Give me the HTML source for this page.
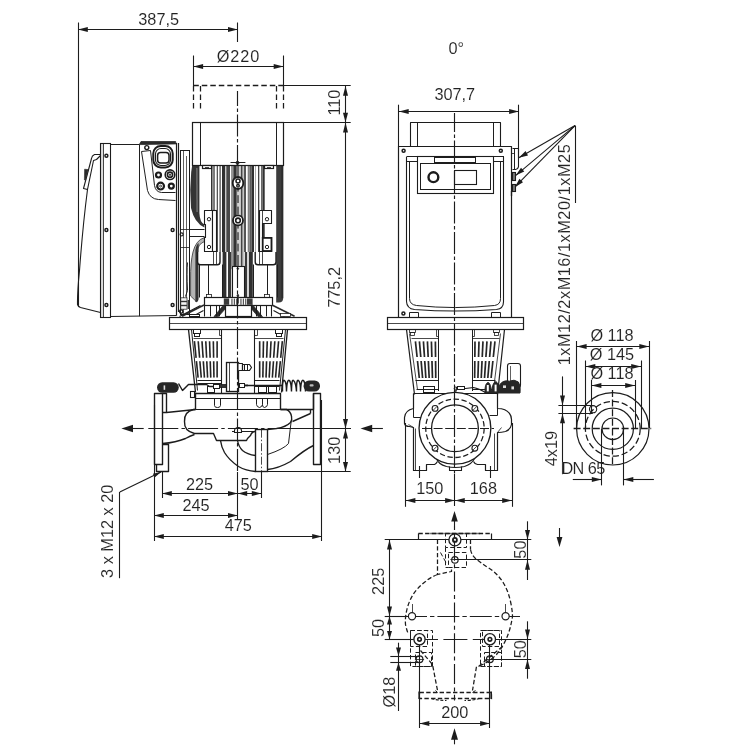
<!DOCTYPE html>
<html lang="en"><head><meta charset="utf-8"><title>Pump dimension drawing</title>
<style>
html,body{margin:0;padding:0;background:#fff;}
body{width:750px;height:750px;overflow:hidden;}
svg{display:block;will-change:transform;}
svg text{font-family:"Liberation Sans",sans-serif;fill:#222;stroke:#fff;stroke-width:0.1px;}
</style></head><body>
<svg width="750" height="750" viewBox="0 0 750 750">
<rect x="0" y="0" width="750" height="750" fill="#ffffff"/>
<text x="456.3" y="53.7" text-anchor="middle" font-size="16.3">0°</text>
<line x1="78.5" y1="22.5" x2="78.5" y2="306" stroke="#1c1c1c" stroke-width="1.1"/>
<line x1="237.5" y1="22.5" x2="237.5" y2="42" stroke="#1c1c1c" stroke-width="1.1"/>
<line x1="78" y1="29.5" x2="237.8" y2="29.5" stroke="#1c1c1c" stroke-width="1.1"/>
<polygon points="78.00,29.50 87.80,27.00 87.80,32.00" fill="#1c1c1c"/>
<polygon points="237.80,29.50 228.00,27.00 228.00,32.00" fill="#1c1c1c"/>
<text x="158.7" y="24.8" text-anchor="middle" font-size="16.3">387,5</text>
<line x1="193.5" y1="55.5" x2="193.5" y2="86" stroke="#1c1c1c" stroke-width="1.1"/>
<line x1="283.5" y1="55.5" x2="283.5" y2="86" stroke="#1c1c1c" stroke-width="1.1"/>
<line x1="193.3" y1="66.5" x2="283.5" y2="66.5" stroke="#1c1c1c" stroke-width="1.1"/>
<polygon points="193.30,66.50 203.10,64.00 203.10,69.00" fill="#1c1c1c"/>
<polygon points="283.50,66.50 273.70,64.00 273.70,69.00" fill="#1c1c1c"/>
<text x="238" y="61.8" text-anchor="middle" font-size="16.3" textLength="42.6" lengthAdjust="spacing">Ø220</text>
<line x1="193.3" y1="85.5" x2="283.5" y2="85.5" stroke="#1c1c1c" stroke-width="1.26" stroke-dasharray="5.5 3"/>
<line x1="193.5" y1="85.9" x2="193.5" y2="110" stroke="#1c1c1c" stroke-width="1.26" stroke-dasharray="5.5 3"/>
<line x1="200.5" y1="85.9" x2="200.5" y2="110" stroke="#1c1c1c" stroke-width="1.26" stroke-dasharray="5.5 3"/>
<line x1="276.5" y1="85.9" x2="276.5" y2="110" stroke="#1c1c1c" stroke-width="1.26" stroke-dasharray="5.5 3"/>
<line x1="283.5" y1="85.9" x2="283.5" y2="110" stroke="#1c1c1c" stroke-width="1.26" stroke-dasharray="5.5 3"/>
<line x1="283.5" y1="85.5" x2="350.7" y2="85.5" stroke="#1c1c1c" stroke-width="1.1"/>
<line x1="283.5" y1="122.5" x2="350.7" y2="122.5" stroke="#1c1c1c" stroke-width="1.1"/>
<line x1="345.5" y1="85.9" x2="345.5" y2="122.6" stroke="#1c1c1c" stroke-width="1.1"/>
<polygon points="345.50,85.90 343.00,95.70 348.00,95.70" fill="#1c1c1c"/>
<polygon points="345.50,122.60 343.00,112.80 348.00,112.80" fill="#1c1c1c"/>
<text transform="translate(339.6 102.6) rotate(-90)" text-anchor="middle" font-size="16.3">110</text>
<line x1="345.5" y1="122.6" x2="345.5" y2="428.8" stroke="#1c1c1c" stroke-width="1.1"/>
<polygon points="345.50,122.60 343.00,132.40 348.00,132.40" fill="#1c1c1c"/>
<polygon points="345.50,428.80 343.00,419.00 348.00,419.00" fill="#1c1c1c"/>
<text transform="translate(339.8 287.4) rotate(-90)" text-anchor="middle" font-size="16.3">775,2</text>
<line x1="262" y1="471.5" x2="350.7" y2="471.5" stroke="#1c1c1c" stroke-width="1.1"/>
<line x1="345.5" y1="428.8" x2="345.5" y2="471.7" stroke="#1c1c1c" stroke-width="1.1"/>
<polygon points="345.50,428.80 343.00,438.60 348.00,438.60" fill="#1c1c1c"/>
<polygon points="345.50,471.70 343.00,461.90 348.00,461.90" fill="#1c1c1c"/>
<text transform="translate(339.8 450.3) rotate(-90)" text-anchor="middle" font-size="16.3">130</text>
<polygon points="121.40,428.50 133.00,424.80 133.00,432.20" fill="#1c1c1c"/>
<line x1="133" y1="428.5" x2="143.7" y2="428.5" stroke="#1c1c1c" stroke-width="1.1"/>
<polygon points="360.50,428.50 372.20,424.80 372.20,432.20" fill="#1c1c1c"/>
<line x1="372" y1="428.5" x2="382.9" y2="428.5" stroke="#1c1c1c" stroke-width="1.1"/>
<line x1="162.5" y1="472" x2="162.5" y2="498" stroke="#1c1c1c" stroke-width="1.1"/>
<line x1="261.5" y1="471" x2="261.5" y2="498" stroke="#1c1c1c" stroke-width="1.1"/>
<line x1="162" y1="493.5" x2="261.2" y2="493.5" stroke="#1c1c1c" stroke-width="1.1"/>
<polygon points="162.00,493.50 171.80,491.00 171.80,496.00" fill="#1c1c1c"/>
<polygon points="237.80,493.50 228.00,491.00 228.00,496.00" fill="#1c1c1c"/>
<polygon points="237.80,493.50 247.20,491.00 247.20,496.00" fill="#1c1c1c"/>
<polygon points="261.20,493.50 251.80,491.00 251.80,496.00" fill="#1c1c1c"/>
<text x="199.5" y="490.0" text-anchor="middle" font-size="16.3">225</text>
<text x="249.6" y="490.0" text-anchor="middle" font-size="16.3">50</text>
<line x1="154.5" y1="405" x2="154.5" y2="541" stroke="#1c1c1c" stroke-width="1.1"/>
<line x1="154" y1="515.5" x2="237.8" y2="515.5" stroke="#1c1c1c" stroke-width="1.1"/>
<polygon points="154.00,515.50 163.80,513.00 163.80,518.00" fill="#1c1c1c"/>
<polygon points="237.80,515.50 228.00,513.00 228.00,518.00" fill="#1c1c1c"/>
<text x="196" y="510.9" text-anchor="middle" font-size="16.3">245</text>
<line x1="321.5" y1="400" x2="321.5" y2="541" stroke="#1c1c1c" stroke-width="1.1"/>
<line x1="154" y1="536.5" x2="322" y2="536.5" stroke="#1c1c1c" stroke-width="1.1"/>
<polygon points="154.00,536.50 163.80,534.00 163.80,539.00" fill="#1c1c1c"/>
<polygon points="322.00,536.50 312.20,534.00 312.20,539.00" fill="#1c1c1c"/>
<text x="238.3" y="531.4" text-anchor="middle" font-size="16.3">475</text>
<line x1="119.5" y1="492" x2="119.5" y2="578.2" stroke="#1c1c1c" stroke-width="1.1"/>
<line x1="119.8" y1="492" x2="161" y2="472.1" stroke="#1c1c1c" stroke-width="1.1"/>
<polygon points="161.00,472.10 154.67,477.38 152.93,473.78" fill="#1c1c1c"/>
<text transform="translate(113 531.3) rotate(-90)" text-anchor="middle" font-size="16.3">3 x M12 x 20</text>
<line x1="398.5" y1="104.7" x2="398.5" y2="147" stroke="#1c1c1c" stroke-width="1.1"/>
<line x1="518.5" y1="104.7" x2="518.5" y2="158" stroke="#1c1c1c" stroke-width="1.1"/>
<line x1="398.9" y1="111.5" x2="518.9" y2="111.5" stroke="#1c1c1c" stroke-width="1.1"/>
<polygon points="398.90,111.50 408.70,109.00 408.70,114.00" fill="#1c1c1c"/>
<polygon points="518.90,111.50 509.10,109.00 509.10,114.00" fill="#1c1c1c"/>
<text x="454.8" y="99.6" text-anchor="middle" font-size="16.3">307,7</text>
<line x1="575.5" y1="125.6" x2="575.5" y2="203" stroke="#1c1c1c" stroke-width="1.1"/>
<line x1="575" y1="125.6" x2="518.8" y2="157.8" stroke="#1c1c1c" stroke-width="1.1"/>
<polygon points="518.80,157.80 525.54,151.06 528.03,155.40" fill="#1c1c1c"/>
<line x1="575" y1="125.6" x2="515.6" y2="175.6" stroke="#1c1c1c" stroke-width="1.1"/>
<polygon points="515.60,175.60 521.03,167.76 524.25,171.59" fill="#1c1c1c"/>
<line x1="575" y1="125.6" x2="514.8" y2="187.2" stroke="#1c1c1c" stroke-width="1.1"/>
<polygon points="514.80,187.20 519.44,178.87 523.02,182.37" fill="#1c1c1c"/>
<text transform="translate(569.6 254.8) rotate(-90)" text-anchor="middle" font-size="16.3" textLength="221" lengthAdjust="spacing">1xM12/2xM16/1xM20/1xM25</text>
<line x1="405.5" y1="423" x2="405.5" y2="506.8" stroke="#1c1c1c" stroke-width="1.1"/>
<line x1="512.5" y1="423" x2="512.5" y2="506.8" stroke="#1c1c1c" stroke-width="1.1"/>
<line x1="405.6" y1="500.5" x2="512" y2="500.5" stroke="#1c1c1c" stroke-width="1.1"/>
<polygon points="405.60,500.50 415.40,498.00 415.40,503.00" fill="#1c1c1c"/>
<polygon points="454.95,500.50 445.15,498.00 445.15,503.00" fill="#1c1c1c"/>
<polygon points="454.95,500.50 464.75,498.00 464.75,503.00" fill="#1c1c1c"/>
<polygon points="512.00,500.50 502.20,498.00 502.20,503.00" fill="#1c1c1c"/>
<text x="429.8" y="494.3" text-anchor="middle" font-size="16.3">150</text>
<text x="483.4" y="494.3" text-anchor="middle" font-size="16.3">168</text>
<line x1="419.5" y1="466" x2="419.5" y2="478" stroke="#1c1c1c" stroke-width="1.1"/>
<line x1="490.5" y1="466" x2="490.5" y2="478" stroke="#1c1c1c" stroke-width="1.1"/>
<line x1="576.5" y1="341" x2="576.5" y2="428" stroke="#1c1c1c" stroke-width="1.1"/>
<line x1="649.5" y1="341" x2="649.5" y2="428" stroke="#1c1c1c" stroke-width="1.1"/>
<line x1="576.8" y1="346.5" x2="649.1" y2="346.5" stroke="#1c1c1c" stroke-width="1.1"/>
<polygon points="576.80,346.50 586.60,344.00 586.60,349.00" fill="#1c1c1c"/>
<polygon points="649.10,346.50 639.30,344.00 639.30,349.00" fill="#1c1c1c"/>
<text x="612" y="341.1" text-anchor="middle" font-size="16.3">Ø 118</text>
<line x1="585.5" y1="360.5" x2="585.5" y2="428" stroke="#1c1c1c" stroke-width="1.1"/>
<line x1="641.5" y1="360.5" x2="641.5" y2="428" stroke="#1c1c1c" stroke-width="1.1"/>
<line x1="585.5" y1="366.5" x2="641" y2="366.5" stroke="#1c1c1c" stroke-width="1.1"/>
<polygon points="585.50,366.50 595.30,364.00 595.30,369.00" fill="#1c1c1c"/>
<polygon points="641.00,366.50 631.20,364.00 631.20,369.00" fill="#1c1c1c"/>
<text x="612" y="360.4" text-anchor="middle" font-size="16.3">Ø 145</text>
<line x1="591.5" y1="380" x2="591.5" y2="411" stroke="#1c1c1c" stroke-width="1.1"/>
<line x1="635.5" y1="380" x2="635.5" y2="428" stroke="#1c1c1c" stroke-width="1.1"/>
<line x1="591.6" y1="385.5" x2="635" y2="385.5" stroke="#1c1c1c" stroke-width="1.1"/>
<polygon points="591.60,385.50 601.40,383.00 601.40,388.00" fill="#1c1c1c"/>
<polygon points="635.00,385.50 625.20,383.00 625.20,388.00" fill="#1c1c1c"/>
<text x="612" y="379.2" text-anchor="middle" font-size="16.3">Ø 118</text>
<line x1="558.4" y1="405.5" x2="592.8" y2="405.5" stroke="#1c1c1c" stroke-width="1.1"/>
<line x1="558.4" y1="413.5" x2="592.8" y2="413.5" stroke="#1c1c1c" stroke-width="1.1"/>
<line x1="562.5" y1="376.4" x2="562.5" y2="474.2" stroke="#1c1c1c" stroke-width="1.1"/>
<polygon points="562.50,405.40 560.00,395.60 565.00,395.60" fill="#1c1c1c"/>
<polygon points="562.50,413.40 560.00,423.20 565.00,423.20" fill="#1c1c1c"/>
<text transform="translate(557.3 448.6) rotate(-90)" text-anchor="middle" font-size="16.3">4x19</text>
<text x="561.4" y="474.2" text-anchor="start" font-size="16.3" textLength="43.9" lengthAdjust="spacing">DN 65</text>
<line x1="572.8" y1="479.5" x2="601.6" y2="479.5" stroke="#1c1c1c" stroke-width="1.1"/>
<line x1="623.5" y1="479.5" x2="653.9" y2="479.5" stroke="#1c1c1c" stroke-width="1.1"/>
<polygon points="601.60,479.50 591.80,477.00 591.80,482.00" fill="#1c1c1c"/>
<polygon points="623.50,479.50 633.30,477.00 633.30,482.00" fill="#1c1c1c"/>
<line x1="601.5" y1="428.8" x2="601.5" y2="485.4" stroke="#1c1c1c" stroke-width="1.1"/>
<line x1="623.5" y1="428.8" x2="623.5" y2="485.4" stroke="#1c1c1c" stroke-width="1.1"/>
<polygon points="454.50,511.00 451.20,521.40 457.80,521.40" fill="#1c1c1c"/>
<line x1="454.5" y1="521" x2="454.5" y2="526" stroke="#1c1c1c" stroke-width="1.1"/>
<polygon points="454.50,728.30 451.00,739.70 458.00,739.70" fill="#1c1c1c"/>
<line x1="454.5" y1="739" x2="454.5" y2="744.3" stroke="#1c1c1c" stroke-width="1.1"/>
<polygon points="559.50,547.00 556.60,537.00 562.40,537.00" fill="#1c1c1c"/>
<line x1="559.5" y1="528" x2="559.5" y2="538" stroke="#1c1c1c" stroke-width="1.1"/>
<line x1="384.7" y1="539.5" x2="531.3" y2="539.5" stroke="#1c1c1c" stroke-width="1.1"/>
<line x1="454.9" y1="559.5" x2="531.3" y2="559.5" stroke="#1c1c1c" stroke-width="1.1"/>
<line x1="527.5" y1="521.3" x2="527.5" y2="580" stroke="#1c1c1c" stroke-width="1.1"/>
<polygon points="527.50,539.70 525.00,529.90 530.00,529.90" fill="#1c1c1c"/>
<polygon points="527.50,559.90 525.00,569.70 530.00,569.70" fill="#1c1c1c"/>
<text transform="translate(525.5 549.6) rotate(-90)" text-anchor="middle" font-size="16.3">50</text>
<line x1="389.5" y1="539.7" x2="389.5" y2="616.2" stroke="#1c1c1c" stroke-width="1.1"/>
<polygon points="389.50,539.70 387.00,549.50 392.00,549.50" fill="#1c1c1c"/>
<polygon points="389.50,616.20 387.00,606.40 392.00,606.40" fill="#1c1c1c"/>
<text transform="translate(384.1 581.3) rotate(-90)" text-anchor="middle" font-size="16.3">225</text>
<line x1="389.5" y1="616.2" x2="389.5" y2="639.3" stroke="#1c1c1c" stroke-width="1.1"/>
<polygon points="389.50,616.20 387.00,624.60 392.00,624.60" fill="#1c1c1c"/>
<polygon points="389.50,639.30 387.00,630.90 392.00,630.90" fill="#1c1c1c"/>
<text transform="translate(384.1 628) rotate(-90)" text-anchor="middle" font-size="16.3">50</text>
<line x1="384.7" y1="639.5" x2="414" y2="639.5" stroke="#1c1c1c" stroke-width="1.1"/>
<line x1="414" y1="639.5" x2="496" y2="639.5" stroke="#1c1c1c" stroke-width="0.99" stroke-dasharray="24 5.4"/>
<line x1="496" y1="639.5" x2="531.3" y2="639.5" stroke="#1c1c1c" stroke-width="1.1"/>
<line x1="384.7" y1="616.5" x2="405" y2="616.5" stroke="#1c1c1c" stroke-width="1.1"/>
<line x1="405" y1="616.5" x2="520" y2="616.5" stroke="#1c1c1c" stroke-width="0.99" stroke-dasharray="22 3 4.4 3"/>
<line x1="489.9" y1="659.5" x2="531.3" y2="659.5" stroke="#1c1c1c" stroke-width="1.1"/>
<line x1="527.5" y1="621.3" x2="527.5" y2="678.7" stroke="#1c1c1c" stroke-width="1.1"/>
<polygon points="527.50,639.30 525.00,629.50 530.00,629.50" fill="#1c1c1c"/>
<polygon points="527.50,659.30 525.00,669.10 530.00,669.10" fill="#1c1c1c"/>
<text transform="translate(525.5 649.3) rotate(-90)" text-anchor="middle" font-size="16.3">50</text>
<line x1="390.3" y1="656.5" x2="419.5" y2="656.5" stroke="#1c1c1c" stroke-width="1.1"/>
<line x1="390.3" y1="662.5" x2="419.5" y2="662.5" stroke="#1c1c1c" stroke-width="1.1"/>
<line x1="398.5" y1="642.7" x2="398.5" y2="711" stroke="#1c1c1c" stroke-width="1.1"/>
<polygon points="398.50,656.00 396.00,647.60 401.00,647.60" fill="#1c1c1c"/>
<polygon points="398.50,662.40 396.00,670.80 401.00,670.80" fill="#1c1c1c"/>
<text transform="translate(395.4 692) rotate(-90)" text-anchor="middle" font-size="16.3">Ø18</text>
<line x1="419.5" y1="639.3" x2="419.5" y2="728" stroke="#1c1c1c" stroke-width="1.1"/>
<line x1="489.5" y1="639.3" x2="489.5" y2="728" stroke="#1c1c1c" stroke-width="1.1"/>
<line x1="419.5" y1="723.5" x2="489.9" y2="723.5" stroke="#1c1c1c" stroke-width="1.1"/>
<polygon points="419.50,723.50 429.30,721.00 429.30,726.00" fill="#1c1c1c"/>
<polygon points="489.90,723.50 480.10,721.00 480.10,726.00" fill="#1c1c1c"/>
<text x="454.8" y="717.8" text-anchor="middle" font-size="16.3">200</text>
<path d="M100.5,154.5 L94.5,154.5 Q91.8,155.6 91.5,158.5 L83.5,188.5 L87.5,189.5 L93.5,160.5 L96.5,159.5 L100.5,155.5" fill="none" stroke="#1c1c1c" stroke-width="1.1" stroke-linejoin="round"/>
<path d="M87.5,189.5 C85.5,205 81,250 79.5,270.5 C78,285 77.4,298 77.5,304.5 Q78,306.6 80.5,307.5 L100.5,312.5" fill="none" stroke="#1c1c1c" stroke-width="1.1" stroke-linejoin="round"/>
<path d="M84.6,169.2 L88.2,169.6 L85.6,180 L84.4,180 Z" fill="#2a2a2a" stroke="#2a2a2a" stroke-width="0.6"/>
<rect x="100.6" y="143.6" width="3" height="173.6" fill="#ddd"/>
<rect x="100.5" y="143.5" width="10.00" height="174.00" fill="none" stroke="#1c1c1c" stroke-width="1.1"/>
<line x1="103.5" y1="143.6" x2="103.5" y2="317.2" stroke="#1c1c1c" stroke-width="0.8"/>
<path d="M110.5,144.5 L139.5,144.5 M110.5,316.5 L176.5,315.5" fill="none" stroke="#1c1c1c" stroke-width="0.99" stroke-linejoin="round"/>
<line x1="139.5" y1="144.6" x2="139.5" y2="316.2" stroke="#1c1c1c" stroke-width="0.99"/>
<line x1="176.5" y1="143" x2="176.5" y2="315.6" stroke="#1c1c1c" stroke-width="1.21"/>
<line x1="178.5" y1="143" x2="178.5" y2="312" stroke="#1c1c1c" stroke-width="1.21"/>
<circle cx="106.4" cy="155.8" r="1.5" fill="none" stroke="#1c1c1c" stroke-width="1.43"/>
<circle cx="106.4" cy="230" r="1.5" fill="none" stroke="#1c1c1c" stroke-width="1.43"/>
<circle cx="106.4" cy="305" r="1.5" fill="none" stroke="#1c1c1c" stroke-width="1.43"/>
<circle cx="172.6" cy="230" r="1.5" fill="none" stroke="#1c1c1c" stroke-width="1.43"/>
<circle cx="172.6" cy="305" r="1.5" fill="none" stroke="#1c1c1c" stroke-width="1.43"/>
<path d="M139.3,144.6 L141,141.5 L175.6,141.5 L176.2,143.9 Z" fill="#2a2a2a" stroke="#2a2a2a" stroke-width="0.8"/>
<circle cx="146.8" cy="147.6" r="2.0" fill="none" stroke="#1c1c1c" stroke-width="1.43"/>
<path d="M141.5,151.5 L150.5,150.5" fill="none" stroke="#1c1c1c" stroke-width="0.99" stroke-linejoin="round"/>
<path d="M141.5,151.5 L147.5,190.5 Q150,199 158.5,199.5 L175.5,200.5" fill="none" stroke="#1c1c1c" stroke-width="0.99" stroke-linejoin="round"/>
<path d="M150.5,150.5 L154.5,185.5 Q155.6,192 161.5,192.5 L175.5,192.5" fill="none" stroke="#1c1c1c" stroke-width="0.99" stroke-linejoin="round"/>
<rect x="153.3" y="145.9" width="19.40" height="21.60" fill="none" stroke="#1c1c1c" stroke-width="2.0" rx="7.5"/>
<rect x="155.5" y="148.5" width="15.00" height="17.00" fill="none" stroke="#1c1c1c" stroke-width="1.1" rx="5.5"/>
<rect x="157.6" y="152.4" width="11.40" height="10.60" fill="none" stroke="#1c1c1c" stroke-width="1.5" rx="3"/>
<circle cx="158.5" cy="175" r="2.5" fill="none" stroke="#1c1c1c" stroke-width="2.2"/>
<circle cx="170" cy="174.7" r="4.8" fill="none" stroke="#1c1c1c" stroke-width="1.6"/>
<circle cx="170" cy="174.7" r="2.6" fill="none" stroke="#1c1c1c" stroke-width="1.6"/>
<circle cx="170" cy="174.7" r="0.8" fill="#1c1c1c" stroke="#1c1c1c" stroke-width="0.6"/>
<circle cx="160.6" cy="186.1" r="3.4" fill="none" stroke="#1c1c1c" stroke-width="2.2"/>
<circle cx="160.6" cy="186.1" r="1.0" fill="none" stroke="#1c1c1c" stroke-width="0.8"/>
<circle cx="171.3" cy="186.1" r="2.5" fill="none" stroke="#1c1c1c" stroke-width="2.2"/>
<rect x="180.5" y="150.5" width="9.00" height="164.00" fill="none" stroke="#1c1c1c" stroke-width="0.99"/>
<line x1="183.5" y1="150.4" x2="183.5" y2="314" stroke="#1c1c1c" stroke-width="0.7"/>
<line x1="186.5" y1="156" x2="186.5" y2="300" stroke="#1c1c1c" stroke-width="0.7"/>
<line x1="180.6" y1="229.5" x2="190" y2="229.5" stroke="#1c1c1c" stroke-width="0.8"/>
<line x1="180.6" y1="247.5" x2="190" y2="247.5" stroke="#1c1c1c" stroke-width="0.8"/>
<circle cx="181.6" cy="234.4" r="1.5" fill="none" stroke="#1c1c1c" stroke-width="1.1"/>
<rect x="211.00" y="165.2" width="1.30" height="86.80" fill="#333"/>
<rect x="212.30" y="165.2" width="2.70" height="86.80" fill="#7c7c7c"/>
<rect x="216.70" y="165.2" width="1.30" height="86.80" fill="#555"/>
<rect x="219.30" y="165.2" width="1.70" height="86.80" fill="#7a7a7a"/>
<rect x="222.00" y="165.2" width="3.30" height="86.80" fill="#303030"/>
<rect x="225.30" y="165.2" width="1.00" height="86.80" fill="#ccc"/>
<rect x="226.30" y="165.2" width="3.70" height="86.80" fill="#484848"/>
<rect x="231.30" y="165.2" width="1.40" height="86.80" fill="#686868"/>
<rect x="233.30" y="165.2" width="3.40" height="86.80" fill="#333"/>
<rect x="236.70" y="165.2" width="2.60" height="86.80" fill="#6a6a6a"/>
<rect x="240.70" y="165.2" width="2.00" height="86.80" fill="#444"/>
<rect x="242.70" y="165.2" width="1.30" height="86.80" fill="#c4c4c4"/>
<rect x="244.00" y="165.2" width="2.00" height="86.80" fill="#555"/>
<rect x="247.70" y="165.2" width="1.90" height="86.80" fill="#808080"/>
<rect x="249.60" y="165.2" width="2.10" height="86.80" fill="#5a5a5a"/>
<rect x="251.70" y="165.2" width="2.30" height="86.80" fill="#303030"/>
<rect x="255.30" y="165.2" width="0.70" height="86.80" fill="#888"/>
<rect x="258.00" y="165.2" width="1.30" height="86.80" fill="#444"/>
<rect x="261.00" y="165.2" width="1.70" height="86.80" fill="#6a6a6a"/>
<rect x="262.70" y="165.2" width="2.00" height="86.80" fill="#333"/>
<rect x="222.60" y="252" width="3.80" height="46.00" fill="#303030"/>
<rect x="228.00" y="252" width="3.20" height="46.00" fill="#3a3a3a"/>
<rect x="244.80" y="252" width="2.40" height="46.00" fill="#3a3a3a"/>
<rect x="248.80" y="252" width="4.00" height="46.00" fill="#303030"/>
<rect x="231.30" y="252" width="1.40" height="14.40" fill="#686868"/>
<rect x="233.30" y="252" width="3.40" height="14.40" fill="#333"/>
<rect x="236.70" y="252" width="2.60" height="14.40" fill="#6a6a6a"/>
<rect x="240.70" y="252" width="2.00" height="14.40" fill="#444"/>
<rect x="242.70" y="252" width="1.30" height="14.40" fill="#c4c4c4"/>
<path d="M276.2,165.2 H283.2 V298 Q283.2,302.6 278.6,302.6 H276.2 Z" fill="#3c3c3c"/>
<rect x="281.4" y="165.2" width="1.8" height="133" fill="#2c2c2c"/>
<path d="M192.2,165.2 L199.4,165.2 L199.4,213 Q199.8,222.4 204.4,224.4 L204.4,227.4 Q194.4,223 191,208 Q189.4,190 191.2,172 Z" fill="#343434"/>
<path d="M196.4,168 L197.4,168 L197.6,212 L196.6,212 Z" fill="#8a8a8a"/>
<path d="M204.4,237.6 Q196,240 193,252 Q190.4,262 190.6,280 L190.6,296 L196.8,302 L196.8,252 Q198.4,243.6 204.4,241.6 Z" fill="#b4b4b4" stroke="#333" stroke-width="0.8"/>
<path d="M195.4,250 Q196.4,244.6 198.6,243 L198.6,298 Q198.6,302.4 195.4,302 Z" fill="#333"/>
<path d="M189.5,229.5 H204.5 M189.5,236.5 H204.5" fill="none" stroke="#1c1c1c" stroke-width="0.99" stroke-linejoin="round"/>
<rect x="192.5" y="122.5" width="91.00" height="43.00" fill="#fff" stroke="#1c1c1c" stroke-width="1.21"/>
<line x1="200.5" y1="122.6" x2="200.5" y2="165" stroke="#1c1c1c" stroke-width="0.99"/>
<line x1="276.5" y1="122.6" x2="276.5" y2="165" stroke="#1c1c1c" stroke-width="0.99"/>
<line x1="230.5" y1="162.5" x2="245.4" y2="162.5" stroke="#1c1c1c" stroke-width="0.99"/>
<path d="M237.5,160.5 L239.5,162.5 L237.5,165.5 L235.5,162.5 Z" fill="#1c1c1c" stroke="#1c1c1c" stroke-width="0.5" stroke-linejoin="round"/>
<rect x="237.4" y="191.6" width="1.3" height="3.6" fill="#fff"/>
<rect x="237.4" y="203" width="1.3" height="3.6" fill="#fff"/>
<rect x="237.4" y="214.4" width="1.3" height="3.6" fill="#fff"/>
<rect x="237.4" y="228.6" width="1.3" height="3.6" fill="#fff"/>
<rect x="237.4" y="240" width="1.3" height="3.6" fill="#fff"/>
<rect x="237.4" y="251.4" width="1.3" height="3.6" fill="#fff"/>
<rect x="232.8" y="177" width="10.40" height="12.00" fill="#fff" stroke="#1c1c1c" stroke-width="1.8" rx="5.2"/>
<circle cx="238.0" cy="181.0" r="2.0" fill="none" stroke="#1c1c1c" stroke-width="1.5"/>
<circle cx="238.0" cy="185.8" r="1.3" fill="none" stroke="#1c1c1c" stroke-width="1.4"/>
<circle cx="238.0" cy="220.4" r="5.0" fill="#fff" stroke="#1c1c1c" stroke-width="1.8"/>
<circle cx="238.0" cy="220.4" r="2.3" fill="none" stroke="#1c1c1c" stroke-width="1.6"/>
<rect x="202.5" y="165.5" width="9.00" height="3.00" fill="#fff" stroke="#1c1c1c" stroke-width="1.21"/>
<rect x="264.5" y="165.5" width="9.00" height="3.00" fill="#fff" stroke="#1c1c1c" stroke-width="1.21"/>
<line x1="205" y1="167.5" x2="209" y2="167.5" stroke="#1c1c1c" stroke-width="0.8"/>
<line x1="267" y1="167.5" x2="271" y2="167.5" stroke="#1c1c1c" stroke-width="0.8"/>
<path d="M204.5,210.5 H212.5 V251.5 H204.5 V237.5 H205.5 V224.5 H204.5 Z" fill="#fff" stroke="#1c1c1c" stroke-width="1.1" stroke-linejoin="round"/>
<rect x="212.5" y="210.5" width="4.00" height="41.00" fill="#fff" stroke="#1c1c1c" stroke-width="1.1"/>
<circle cx="209.0" cy="219.2" r="1.7" fill="none" stroke="#1c1c1c" stroke-width="0.99"/>
<circle cx="209.0" cy="247" r="1.7" fill="none" stroke="#1c1c1c" stroke-width="0.99"/>
<path d="M259.5,210.5 H271.5 V223.5 H262.5 V237.5 H271.5 V251.5 H259.5 Z" fill="#fff" stroke="#1c1c1c" stroke-width="1.1" stroke-linejoin="round"/>
<rect x="262.7" y="237.9" width="8.80" height="13.10" fill="none" stroke="#1c1c1c" stroke-width="1.8"/>
<line x1="262.5" y1="210" x2="262.5" y2="251" stroke="#1c1c1c" stroke-width="0.8"/>
<circle cx="267" cy="219.2" r="1.7" fill="none" stroke="#1c1c1c" stroke-width="0.99"/>
<circle cx="267" cy="247" r="1.7" fill="none" stroke="#1c1c1c" stroke-width="0.99"/>
<path d="M197.6,252 V262 Q197.6,264.8 200.4,264.8 H217.2 Q220,264.8 220,262 V252" fill="#fff" stroke="#1c1c1c" stroke-width="1.4" stroke-linejoin="round"/>
<path d="M255.2,252 V262 Q255.2,264.8 258,264.8 H273.2 Q276,264.8 276,262 V252" fill="#fff" stroke="#1c1c1c" stroke-width="1.4" stroke-linejoin="round"/>
<line x1="213.5" y1="252" x2="213.5" y2="264.8" stroke="#1c1c1c" stroke-width="0.8"/>
<line x1="216.5" y1="252" x2="216.5" y2="264.8" stroke="#1c1c1c" stroke-width="0.8"/>
<line x1="259.5" y1="252" x2="259.5" y2="264.8" stroke="#1c1c1c" stroke-width="0.8"/>
<line x1="262.5" y1="252" x2="262.5" y2="264.8" stroke="#1c1c1c" stroke-width="0.8"/>
<path d="M199.5,264.5 V297.5 M208.5,264.5 V297.5 M222.5,264.5 V297.5" fill="none" stroke="#1c1c1c" stroke-width="0.99" stroke-linejoin="round"/>
<path d="M253.5,264.5 V297.5 M267.5,264.5 V297.5 M277.5,264.5 V297.5" fill="none" stroke="#1c1c1c" stroke-width="0.99" stroke-linejoin="round"/>
<rect x="206.5" y="294.5" width="5.00" height="3.00" fill="#fff" stroke="#1c1c1c" stroke-width="0.8"/>
<rect x="264.5" y="294.5" width="5.00" height="3.00" fill="#fff" stroke="#1c1c1c" stroke-width="0.8"/>
<rect x="232.5" y="266.5" width="12.00" height="31.00" fill="#fff" stroke="#1c1c1c" stroke-width="1.1"/>
<circle cx="237.8" cy="268.6" r="0.9" fill="#1c1c1c" stroke="#1c1c1c" stroke-width="0.6"/>
<circle cx="237.8" cy="295.4" r="0.9" fill="#1c1c1c" stroke="#1c1c1c" stroke-width="0.6"/>
<rect x="231.6" y="266.6" width="1.4" height="2.6" fill="#222"/>
<rect x="204.5" y="297.5" width="68.00" height="8.00" fill="#fff" stroke="#1c1c1c" stroke-width="1.21"/>
<rect x="223.8" y="298.4" width="5.4" height="6.4" fill="#3a3a3a"/><rect x="247" y="298.4" width="5.6" height="6.4" fill="#3a3a3a"/>
<rect x="231.4" y="298.6" width="1.1" height="6.2" fill="#444"/>
<rect x="233.8" y="298.6" width="1.1" height="6.2" fill="#444"/>
<rect x="236.2" y="298.6" width="1.1" height="6.2" fill="#444"/>
<rect x="240.4" y="298.6" width="1.1" height="6.2" fill="#444"/>
<rect x="242.8" y="298.6" width="1.1" height="6.2" fill="#444"/>
<rect x="245.2" y="298.6" width="1.1" height="6.2" fill="#444"/>
<rect x="237.2" y="294.6" width="1.6" height="9" fill="#333"/>
<path d="M204.5,305.5 V316.5 M271.5,305.5 V316.5" fill="none" stroke="#1c1c1c" stroke-width="1.1" stroke-linejoin="round"/>
<path d="M214,316.6 L223.4,305.2 L226,305.2 L226,308 L218.4,316.6 Z M262.4,316.6 L253,305.2 L250.8,305.2 L250.8,308 L258,316.6 Z" fill="#2a2a2a" stroke="#2a2a2a" stroke-width="0.8"/>
<rect x="225.5" y="305.5" width="26.00" height="11.00" fill="#fff" stroke="#1c1c1c" stroke-width="1.21"/>
<path d="M204,305 L182,316.2" fill="none" stroke="#2a2a2a" stroke-width="1.6" stroke-linejoin="round"/>
<path d="M272,305 L294.6,316.2" fill="none" stroke="#2a2a2a" stroke-width="1.6" stroke-linejoin="round"/>
<path d="M203.5,310.5 L192.5,316.5 M273.5,310.5 L284.5,316.5" fill="none" stroke="#1c1c1c" stroke-width="1.1" stroke-linejoin="round"/>
<line x1="210.5" y1="305" x2="210.5" y2="316.4" stroke="#1c1c1c" stroke-width="0.99"/>
<line x1="216.5" y1="305" x2="216.5" y2="316.4" stroke="#1c1c1c" stroke-width="0.99"/>
<line x1="219.5" y1="305" x2="219.5" y2="316.4" stroke="#1c1c1c" stroke-width="0.99"/>
<line x1="256.5" y1="305" x2="256.5" y2="316.4" stroke="#1c1c1c" stroke-width="0.99"/>
<line x1="260.5" y1="305" x2="260.5" y2="316.4" stroke="#1c1c1c" stroke-width="0.99"/>
<line x1="266.5" y1="305" x2="266.5" y2="316.4" stroke="#1c1c1c" stroke-width="0.99"/>
<rect x="280.5" y="313.5" width="10.00" height="3.00" fill="#fff" stroke="#1c1c1c" stroke-width="0.8"/>
<path d="M187.5,262.5 Q186.6,272 187.5,290.5 L185.5,296.5" fill="none" stroke="#1c1c1c" stroke-width="0.99" stroke-linejoin="round"/>
<rect x="180.4" y="297.4" width="7" height="12.2" fill="#333"/>
<rect x="181.2" y="298.2" width="5.4" height="2.6" fill="#f4f4f4"/>
<rect x="181.2" y="302.2" width="5.4" height="2.6" fill="#f4f4f4"/>
<rect x="181.2" y="306.2" width="5.4" height="2.6" fill="#f4f4f4"/>
<rect x="187.6" y="300" width="1.8" height="9" fill="#333"/>
<circle cx="181.2" cy="311.6" r="1.7" fill="none" stroke="#1c1c1c" stroke-width="1.43"/>
<path d="M179.5,316.5 L200.5,305.5" fill="none" stroke="#1c1c1c" stroke-width="1.32" stroke-linejoin="round"/>
<rect x="189.5" y="314.5" width="10.00" height="2.00" fill="#fff" stroke="#1c1c1c" stroke-width="0.99"/>
<rect x="169.5" y="317.5" width="137.00" height="12.00" fill="#fff" stroke="#1c1c1c" stroke-width="1.21"/>
<line x1="169.6" y1="323.5" x2="306.8" y2="323.5" stroke="#1c1c1c" stroke-width="0.8"/>
<path d="M188.5,329.5 L195.5,392.5 M287.5,329.5 L281.5,392.5" fill="none" stroke="#1c1c1c" stroke-width="1.32" stroke-linejoin="round"/>
<path d="M191.5,329.5 L197.5,390.5 M285.5,329.5 L279.5,390.5" fill="none" stroke="#1c1c1c" stroke-width="0.99" stroke-linejoin="round"/>
<line x1="221.5" y1="329.9" x2="221.5" y2="393" stroke="#1c1c1c" stroke-width="1.1"/>
<line x1="254.5" y1="329.9" x2="254.5" y2="393" stroke="#1c1c1c" stroke-width="1.1"/>
<path d="M219.5,329.5 V335.5 H221.5 M257.5,329.5 V335.5 H254.5" fill="none" stroke="#1c1c1c" stroke-width="0.8" stroke-linejoin="round"/>
<rect x="193.5" y="329.5" width="7.00" height="4.00" fill="#fff" stroke="#1c1c1c" stroke-width="0.99"/>
<rect x="194.5" y="333.5" width="5.00" height="3.00" fill="#fff" stroke="#1c1c1c" stroke-width="0.99"/>
<rect x="275.5" y="329.5" width="7.00" height="4.00" fill="#fff" stroke="#1c1c1c" stroke-width="0.99"/>
<rect x="276.5" y="333.5" width="5.00" height="3.00" fill="#fff" stroke="#1c1c1c" stroke-width="0.99"/>
<line x1="194.44" y1="341.2" x2="196.10" y2="357.8" stroke="#242424" stroke-width="1.6"/>
<line x1="198.22" y1="341.2" x2="199.60" y2="357.8" stroke="#242424" stroke-width="1.6"/>
<line x1="202.00" y1="341.2" x2="203.11" y2="357.8" stroke="#242424" stroke-width="1.6"/>
<line x1="205.78" y1="341.2" x2="206.61" y2="357.8" stroke="#242424" stroke-width="1.6"/>
<line x1="209.56" y1="341.2" x2="210.11" y2="357.8" stroke="#242424" stroke-width="1.6"/>
<line x1="213.34" y1="341.2" x2="213.62" y2="357.8" stroke="#242424" stroke-width="1.6"/>
<line x1="217.12" y1="341.2" x2="217.12" y2="357.8" stroke="#242424" stroke-width="1.6"/>
<line x1="196.44" y1="361.2" x2="198.08" y2="377.6" stroke="#242424" stroke-width="1.6"/>
<line x1="199.89" y1="361.2" x2="201.25" y2="377.6" stroke="#242424" stroke-width="1.6"/>
<line x1="203.33" y1="361.2" x2="204.43" y2="377.6" stroke="#242424" stroke-width="1.6"/>
<line x1="206.78" y1="361.2" x2="207.60" y2="377.6" stroke="#242424" stroke-width="1.6"/>
<line x1="210.23" y1="361.2" x2="210.77" y2="377.6" stroke="#242424" stroke-width="1.6"/>
<line x1="213.67" y1="361.2" x2="213.95" y2="377.6" stroke="#242424" stroke-width="1.6"/>
<line x1="217.12" y1="361.2" x2="217.12" y2="377.6" stroke="#242424" stroke-width="1.6"/>
<line x1="282.36" y1="341.2" x2="280.70" y2="357.8" stroke="#242424" stroke-width="1.6"/>
<line x1="278.58" y1="341.2" x2="277.20" y2="357.8" stroke="#242424" stroke-width="1.6"/>
<line x1="274.80" y1="341.2" x2="273.69" y2="357.8" stroke="#242424" stroke-width="1.6"/>
<line x1="271.02" y1="341.2" x2="270.19" y2="357.8" stroke="#242424" stroke-width="1.6"/>
<line x1="267.24" y1="341.2" x2="266.69" y2="357.8" stroke="#242424" stroke-width="1.6"/>
<line x1="263.46" y1="341.2" x2="263.18" y2="357.8" stroke="#242424" stroke-width="1.6"/>
<line x1="259.68" y1="341.2" x2="259.68" y2="357.8" stroke="#242424" stroke-width="1.6"/>
<line x1="280.36" y1="361.2" x2="278.72" y2="377.6" stroke="#242424" stroke-width="1.6"/>
<line x1="276.91" y1="361.2" x2="275.55" y2="377.6" stroke="#242424" stroke-width="1.6"/>
<line x1="273.47" y1="361.2" x2="272.37" y2="377.6" stroke="#242424" stroke-width="1.6"/>
<line x1="270.02" y1="361.2" x2="269.20" y2="377.6" stroke="#242424" stroke-width="1.6"/>
<line x1="266.57" y1="361.2" x2="266.03" y2="377.6" stroke="#242424" stroke-width="1.6"/>
<line x1="263.13" y1="361.2" x2="262.85" y2="377.6" stroke="#242424" stroke-width="1.6"/>
<line x1="259.68" y1="361.2" x2="259.68" y2="377.6" stroke="#242424" stroke-width="1.6"/>
<path d="M193.5,338.5 H221.5 M254.5,338.5 H283.5" fill="none" stroke="#1c1c1c" stroke-width="0.8" stroke-linejoin="round"/>
<path d="M197.5,380.5 H221.5 M254.5,380.5 H279.5" fill="none" stroke="#1c1c1c" stroke-width="0.99" stroke-linejoin="round"/>
<path d="M197.5,383.5 H221.5 M254.5,386.5 H279.5" fill="none" stroke="#1c1c1c" stroke-width="0.99" stroke-linejoin="round"/>
<rect x="207.5" y="386.5" width="7.00" height="6.00" fill="none" stroke="#1c1c1c" stroke-width="0.99"/>
<rect x="258.5" y="386.5" width="8.00" height="6.00" fill="none" stroke="#1c1c1c" stroke-width="0.99"/>
<rect x="268.5" y="386.5" width="8.00" height="6.00" fill="none" stroke="#1c1c1c" stroke-width="0.99"/>
<rect x="226.5" y="362.5" width="12.00" height="29.00" fill="#fff" stroke="#1c1c1c" stroke-width="1.32"/>
<line x1="229.5" y1="362.4" x2="229.5" y2="391" stroke="#1c1c1c" stroke-width="0.8"/>
<path d="M238.5,363.5 H242.5 V370.5 H238.5" fill="#fff" stroke="#1c1c1c" stroke-width="1.1" stroke-linejoin="round"/>
<path d="M242.5,364.5 H249.5 L251.5,367.5 L249.5,370.5 H242.5 Z" fill="#fff" stroke="#1c1c1c" stroke-width="1.21" stroke-linejoin="round"/>
<line x1="244.5" y1="364.2" x2="244.5" y2="370" stroke="#1c1c1c" stroke-width="0.99"/>
<line x1="247.5" y1="364.2" x2="247.5" y2="370" stroke="#1c1c1c" stroke-width="0.99"/>
<path d="M178.5,383.5 L182.5,390.5 L188.5,384.5 H206.5 L209.5,386.5 H214.5" fill="none" stroke="#1c1c1c" stroke-width="1.43" stroke-linejoin="round"/>
<path d="M238.5,385.5 H282.5" fill="none" stroke="#1c1c1c" stroke-width="1.32" stroke-linejoin="round"/>
<rect x="213.5" y="384.5" width="6.00" height="4.00" fill="#fff" stroke="#1c1c1c" stroke-width="0.99"/>
<rect x="219.5" y="384.5" width="7.00" height="3.00" fill="#333" stroke="#1c1c1c" stroke-width="0.8"/>
<rect x="239.5" y="383.5" width="5.00" height="4.00" fill="#fff" stroke="#1c1c1c" stroke-width="0.99"/>
<line x1="244.6" y1="385.4" x2="248" y2="385.4" stroke="#1c1c1c" stroke-width="1.6"/>
<rect x="157" y="382.2" width="21.8" height="10.6" rx="5.2" fill="#262626"/>
<rect x="163.6" y="385.4" width="1.6" height="4.4" fill="#ddd"/>
<path d="M282.5,391.5 Q282.24,378.6 284.5,380.5 Q286.46,382.6 286.5,391.5 M286.5,391.5 Q286.94,378.6 289.5,380.5 Q291.16,382.6 291.5,391.5 M291.5,391.5 Q291.63,378.6 293.5,380.5 Q295.86,382.6 296.5,391.5 M296.5,391.5 Q296.34,378.6 298.5,380.5 Q300.56,382.6 300.5,391.5 M300.5,391.5 Q301.04,378.6 303.5,380.5 Q305.26,382.6 305.5,391.5" fill="none" stroke="#1c1c1c" stroke-width="1.43" stroke-linejoin="round"/>
<rect x="303.6" y="380.4" width="16.4" height="11.2" rx="5.4" fill="#262626"/>
<rect x="309.6" y="384.2" width="4" height="2.2" rx="1" fill="#bbb"/>
<path d="M195.5,409.5 V393.5 H280.5 V409.5" fill="#fff" stroke="#1c1c1c" stroke-width="1.38" stroke-linejoin="round"/>
<line x1="195.3" y1="398.5" x2="280.7" y2="398.5" stroke="#1c1c1c" stroke-width="0.99"/>
<line x1="195.3" y1="409.5" x2="280.7" y2="409.5" stroke="#1c1c1c" stroke-width="1.1"/>
<rect x="190.5" y="391.5" width="4.00" height="6.00" fill="#fff" stroke="#1c1c1c" stroke-width="1.1"/>
<path d="M214.5,398.5 V405.5 Q214.7,407.8 217.5,407.5 Q220,407.8 220.5,405.5 V398.5" fill="none" stroke="#1c1c1c" stroke-width="0.99" stroke-linejoin="round"/>
<path d="M256.5,398.5 V404.5 Q256.7,407 259.5,407.5 Q262,407 262.5,404.5 V398.5 M262.5,404.5 Q262,407 264.5,407.5 Q267.3,407 267.5,404.5 V398.5" fill="none" stroke="#1c1c1c" stroke-width="0.99" stroke-linejoin="round"/>
<path d="M154.5,393.5 H162.5 V464.5 H154.5 Z" fill="none" stroke="#1c1c1c" stroke-width="1.38" stroke-linejoin="round"/>
<path d="M162.5,393.5 H166.5 V412.5" fill="none" stroke="#1c1c1c" stroke-width="1.38" stroke-linejoin="round"/>
<path d="M162.5,444.5 H168.5 V471.5 H156.5 V464.5" fill="none" stroke="#1c1c1c" stroke-width="1.38" stroke-linejoin="round"/>
<path d="M320.5,393.5 H313.5 V464.5 H320.5 Z" fill="none" stroke="#1c1c1c" stroke-width="1.38" stroke-linejoin="round"/>
<path d="M313.5,393.5 V409.5 M313.5,409.5 H280.5" fill="none" stroke="#1c1c1c" stroke-width="1.38" stroke-linejoin="round"/>
<path d="M310.5,409.5 V413.5" fill="none" stroke="#1c1c1c" stroke-width="1.38" stroke-linejoin="round"/>
<path d="M162.5,412.5 H166.5 L195.5,409.5" fill="none" stroke="#1c1c1c" stroke-width="1.38" stroke-linejoin="round"/>
<path d="M162.5,443.5 Q176,442.6 185.5,438.5 Q190,436 194.5,434.5" fill="none" stroke="#1c1c1c" stroke-width="1.38" stroke-linejoin="round"/>
<path d="M195.5,409.5 H193.5 Q184,411.6 184.5,421.5 Q184,431 194.5,433.5 H213.5 L216.5,440.5 H246.5 L247.5,438.5 L250.5,435.5 Q252,431.2 255.5,431.5" fill="none" stroke="#1c1c1c" stroke-width="1.38" stroke-linejoin="round"/>
<path d="M280.5,409.5 L286.5,409.5 Q290.7,411.4 291.5,416.5 Q292.4,420 290.5,422.5 Q286,427 276.5,428.5 L267.5,429.5" fill="none" stroke="#1c1c1c" stroke-width="1.38" stroke-linejoin="round"/>
<path d="M291.5,418.5 L288.5,443.5 Q284,449 267.5,454.5" fill="none" stroke="#1c1c1c" stroke-width="0.99" stroke-linejoin="round"/>
<path d="M310.5,413.5 L292.5,421.5" fill="none" stroke="#1c1c1c" stroke-width="1.38" stroke-linejoin="round"/>
<path d="M313.5,445.5 Q304.7,449.6 290.5,461.5 Q278,468.6 267.5,469.5" fill="none" stroke="#1c1c1c" stroke-width="1.38" stroke-linejoin="round"/>
<path d="M220.5,440.5 Q221.4,447 224.5,452.5 Q229,460 238.5,466.5 Q246,470.8 255.5,471.5" fill="none" stroke="#1c1c1c" stroke-width="1.38" stroke-linejoin="round"/>
<path d="M237.5,440.5 Q238.6,446.6 242.5,450.5 Q247,454.4 255.5,455.5" fill="none" stroke="#1c1c1c" stroke-width="1.38" stroke-linejoin="round"/>
<line x1="232" y1="431.5" x2="255.3" y2="431.5" stroke="#1c1c1c" stroke-width="0.99"/>
<rect x="255.5" y="429.5" width="12.00" height="42.00" fill="#fff" stroke="#1c1c1c" stroke-width="1.38"/>
<line x1="261.5" y1="429.7" x2="261.5" y2="471.7" stroke="#1c1c1c" stroke-width="0.8" stroke-dasharray="8 2 1.5 2"/>
<path d="M234.5,432.5 V430.5 Q234.8,427.4 238.5,427.5 Q241.2,427.4 241.5,430.5 V432.5 Z" fill="#fff" stroke="#1c1c1c" stroke-width="1.1" stroke-linejoin="round"/>
<path d="M410.5,146.5 V122.5 H500.5 V146.5" fill="none" stroke="#1c1c1c" stroke-width="1.1" stroke-linejoin="round"/>
<line x1="417.5" y1="122.4" x2="417.5" y2="146.2" stroke="#1c1c1c" stroke-width="0.99"/>
<line x1="493.5" y1="122.4" x2="493.5" y2="146.2" stroke="#1c1c1c" stroke-width="0.99"/>
<path d="M398.5,317.5 V146.5 H511.5 V317.5" fill="none" stroke="#1c1c1c" stroke-width="1.21" stroke-linejoin="round"/>
<line x1="406.9" y1="156.5" x2="504" y2="156.5" stroke="#1c1c1c" stroke-width="0.99"/>
<circle cx="403.6" cy="150.8" r="1.5" fill="none" stroke="#1c1c1c" stroke-width="1.5"/>
<circle cx="500.8" cy="150.8" r="1.5" fill="none" stroke="#1c1c1c" stroke-width="1.5"/>
<circle cx="403.4" cy="313.4" r="1.5" fill="none" stroke="#1c1c1c" stroke-width="1.5"/>
<path d="M406.5,156.5 V301.5 Q406.8,308.6 414.5,309.5 Q455,312.6 496.5,309.5 Q503.6,308.6 503.5,301.5 V156.5" fill="none" stroke="#1c1c1c" stroke-width="1.1" stroke-linejoin="round"/>
<path d="M409.5,161.5 V298.5 Q409.6,304.6 416.5,305.5 Q455,309.6 494.5,305.5 Q500.6,304.6 500.5,298.5 V161.5" fill="none" stroke="#1c1c1c" stroke-width="0.99" stroke-linejoin="round"/>
<line x1="406.8" y1="161.5" x2="417.6" y2="161.5" stroke="#1c1c1c" stroke-width="0.99"/>
<line x1="493.7" y1="161.5" x2="503.7" y2="161.5" stroke="#1c1c1c" stroke-width="0.99"/>
<path d="M409.5,317.5 V312.5 H418.5 V317.5 M491.5,317.5 V312.5 H500.5 V317.5" fill="none" stroke="#1c1c1c" stroke-width="0.99" stroke-linejoin="round"/>
<rect x="417.5" y="156.5" width="76.00" height="37.00" fill="none" stroke="#1c1c1c" stroke-width="1.1"/>
<rect x="420.5" y="163.5" width="70.00" height="26.00" fill="none" stroke="#1c1c1c" stroke-width="0.99"/>
<rect x="434.5" y="157.5" width="41.00" height="5.00" fill="none" stroke="#1c1c1c" stroke-width="0.99"/>
<circle cx="433.4" cy="177.2" r="4.9" fill="none" stroke="#1c1c1c" stroke-width="2.4"/>
<rect x="454.5" y="170.5" width="22.00" height="14.00" fill="none" stroke="#1c1c1c" stroke-width="1.1"/>
<path d="M512.5,148.5 H518.5 V166.5 Q518,169.2 515.5,169.5 H512.5" fill="none" stroke="#1c1c1c" stroke-width="1.1" stroke-linejoin="round"/>
<line x1="514.5" y1="148.4" x2="514.5" y2="169.2" stroke="#1c1c1c" stroke-width="0.99"/>
<line x1="512" y1="153.5" x2="514.8" y2="153.5" stroke="#1c1c1c" stroke-width="0.8"/>
<rect x="512.5" y="172.5" width="3.00" height="8.00" fill="#777" stroke="#1c1c1c" stroke-width="1.1"/>
<rect x="512.5" y="184.5" width="3.00" height="7.00" fill="#777" stroke="#1c1c1c" stroke-width="1.1"/>
<line x1="511.5" y1="191" x2="511.5" y2="196" stroke="#1c1c1c" stroke-width="1.32"/>
<rect x="387.5" y="317.5" width="136.00" height="12.00" fill="#fff" stroke="#1c1c1c" stroke-width="1.21"/>
<line x1="387" y1="323.5" x2="523" y2="323.5" stroke="#1c1c1c" stroke-width="0.8"/>
<path d="M406.5,329.5 L414.5,394.5 M504.5,329.5 L497.5,394.5" fill="none" stroke="#1c1c1c" stroke-width="1.21" stroke-linejoin="round"/>
<path d="M409.5,333.5 L417.5,389.5 M500.5,333.5 L493.5,389.5" fill="none" stroke="#1c1c1c" stroke-width="0.8" stroke-linejoin="round"/>
<line x1="438.5" y1="329.4" x2="438.5" y2="391" stroke="#1c1c1c" stroke-width="0.99"/>
<line x1="472.5" y1="329.4" x2="472.5" y2="391" stroke="#1c1c1c" stroke-width="0.99"/>
<path d="M436.5,329.5 V336.5 H438.5 M474.5,329.5 V336.5 H472.5" fill="none" stroke="#1c1c1c" stroke-width="0.8" stroke-linejoin="round"/>
<rect x="409.5" y="329.5" width="6.00" height="3.00" fill="none" stroke="#1c1c1c" stroke-width="0.8"/>
<rect x="410.5" y="332.5" width="4.00" height="3.00" fill="none" stroke="#1c1c1c" stroke-width="0.8"/>
<rect x="493.5" y="329.5" width="6.00" height="3.00" fill="none" stroke="#1c1c1c" stroke-width="0.8"/>
<rect x="494.5" y="332.5" width="4.00" height="3.00" fill="none" stroke="#1c1c1c" stroke-width="0.8"/>
<line x1="415.44" y1="341.4" x2="417.09" y2="357" stroke="#262626" stroke-width="1.7"/>
<line x1="419.43" y1="341.4" x2="420.78" y2="357" stroke="#262626" stroke-width="1.7"/>
<line x1="423.43" y1="341.4" x2="424.47" y2="357" stroke="#262626" stroke-width="1.7"/>
<line x1="427.42" y1="341.4" x2="428.17" y2="357" stroke="#262626" stroke-width="1.7"/>
<line x1="431.41" y1="341.4" x2="431.86" y2="357" stroke="#262626" stroke-width="1.7"/>
<line x1="435.40" y1="341.4" x2="435.55" y2="357" stroke="#262626" stroke-width="1.7"/>
<line x1="417.51" y1="361" x2="419.30" y2="378" stroke="#262626" stroke-width="1.7"/>
<line x1="421.12" y1="361" x2="422.59" y2="378" stroke="#262626" stroke-width="1.7"/>
<line x1="424.74" y1="361" x2="425.88" y2="378" stroke="#262626" stroke-width="1.7"/>
<line x1="428.36" y1="361" x2="429.17" y2="378" stroke="#262626" stroke-width="1.7"/>
<line x1="431.97" y1="361" x2="432.46" y2="378" stroke="#262626" stroke-width="1.7"/>
<line x1="435.59" y1="361" x2="435.75" y2="378" stroke="#262626" stroke-width="1.7"/>
<line x1="475.00" y1="341.4" x2="474.85" y2="357" stroke="#262626" stroke-width="1.7"/>
<line x1="478.99" y1="341.4" x2="478.54" y2="357" stroke="#262626" stroke-width="1.7"/>
<line x1="482.98" y1="341.4" x2="482.23" y2="357" stroke="#262626" stroke-width="1.7"/>
<line x1="486.97" y1="341.4" x2="485.93" y2="357" stroke="#262626" stroke-width="1.7"/>
<line x1="490.97" y1="341.4" x2="489.62" y2="357" stroke="#262626" stroke-width="1.7"/>
<line x1="494.96" y1="341.4" x2="493.31" y2="357" stroke="#262626" stroke-width="1.7"/>
<line x1="474.81" y1="361" x2="474.65" y2="378" stroke="#262626" stroke-width="1.7"/>
<line x1="478.43" y1="361" x2="477.94" y2="378" stroke="#262626" stroke-width="1.7"/>
<line x1="482.04" y1="361" x2="481.23" y2="378" stroke="#262626" stroke-width="1.7"/>
<line x1="485.66" y1="361" x2="484.52" y2="378" stroke="#262626" stroke-width="1.7"/>
<line x1="489.27" y1="361" x2="487.81" y2="378" stroke="#262626" stroke-width="1.7"/>
<line x1="492.89" y1="361" x2="491.10" y2="378" stroke="#262626" stroke-width="1.7"/>
<path d="M411.5,338.5 H438.5 M472.5,338.5 H499.5" fill="none" stroke="#1c1c1c" stroke-width="0.8" stroke-linejoin="round"/>
<path d="M415.5,380.5 H438.5 M472.5,380.5 H495.5" fill="none" stroke="#1c1c1c" stroke-width="0.99" stroke-linejoin="round"/>
<path d="M416.5,389.5 H438.5 M472.5,389.5 H494.5" fill="none" stroke="#1c1c1c" stroke-width="0.99" stroke-linejoin="round"/>
<rect x="423.5" y="386.5" width="11.00" height="6.00" fill="none" stroke="#1c1c1c" stroke-width="0.99"/>
<rect x="507.5" y="363.5" width="13.00" height="24.00" fill="#fff" stroke="#1c1c1c" stroke-width="1.1" rx="2.4"/>
<line x1="510.5" y1="366" x2="510.5" y2="384" stroke="#1c1c1c" stroke-width="0.7"/>
<path d="M485,393 Q484.6,383.4 488,382.4 Q491,383 491.6,393 Q492.4,382 496,381.6 Q499,383 499.4,393 L499.6,385 Q503,379.6 509.6,381.2 Q514,378.8 518.4,382 Q521,385.6 520,393 Z" fill="#262626" stroke="#262626" stroke-width="1"/>
<rect x="486.8" y="385" width="2" height="6.4" fill="#fff"/><rect x="494.6" y="384.6" width="2" height="6.8" fill="#fff"/><rect x="503" y="385.4" width="3" height="2.6" fill="#ddd"/><rect x="511.4" y="386.4" width="2.6" height="3" fill="#ddd"/>
<path d="M455.5,393.5 L456.5,387.5 L465.5,388.5 L473.5,387.5 Q479,388.4 485.5,392.5" fill="none" stroke="#1c1c1c" stroke-width="1.1" stroke-linejoin="round"/>
<rect x="457.5" y="386.5" width="7.00" height="3.00" fill="#fff" stroke="#1c1c1c" stroke-width="0.99"/>
<circle cx="455.8" cy="388.6" r="1.6" fill="none" stroke="#1c1c1c" stroke-width="0.99"/>
<path d="M413.5,393.5 H497.5" fill="none" stroke="#1c1c1c" stroke-width="1.21" stroke-linejoin="round"/>
<path d="M413.5,393.5 V408.5 Q405,410.4 404.5,417.5 V423.5 Q405.2,426.6 409.5,426.5 L413.5,427.5 V470.5 H426.5 V464.5 H434.5 Q436,464 437.5,461.5" fill="none" stroke="#1c1c1c" stroke-width="1.21" stroke-linejoin="round"/>
<path d="M497.5,393.5 V408.5 Q506,408.6 509.5,413.5 Q511.2,415.4 511.5,419.5 V424.5 Q510.6,429.6 505.5,431.5 Q501,432.6 497.5,432.5 V470.5 H485.5 V464.5 H477.5 Q474.6,464 473.5,461.5" fill="none" stroke="#1c1c1c" stroke-width="1.21" stroke-linejoin="round"/>
<path d="M413.5,408.5 V417.5 H421.5 M497.5,408.5 V415.5 H489.5" fill="none" stroke="#1c1c1c" stroke-width="0.99" stroke-linejoin="round"/>
<path d="M408.5,424.5 L413.5,427.5 M501.5,427.5 L497.5,432.5" fill="none" stroke="#1c1c1c" stroke-width="0.8" stroke-linejoin="round"/>
<path d="M415.5,428.5 V470.5 M494.5,433.5 V470.5" fill="none" stroke="#1c1c1c" stroke-width="0.8" stroke-linejoin="round"/>
<path d="M449.5,466.5 V470.5 H461.5 V466.5" fill="none" stroke="#1c1c1c" stroke-width="1.1" stroke-linejoin="round"/>
<path d="M436.5,458.5 Q438,464 446.5,466.5 Q455,468.6 464.5,466.5 Q472,464 474.5,458.5" fill="none" stroke="#1c1c1c" stroke-width="1.1" stroke-linejoin="round"/>
<circle cx="454.95" cy="428.3" r="35.9" fill="#fff" stroke="#1c1c1c" stroke-width="1.32"/>
<circle cx="454.95" cy="428.3" r="23.4" fill="none" stroke="#1c1c1c" stroke-width="1.32"/>
<circle cx="454.95" cy="428.3" r="29.2" fill="none" stroke="#1c1c1c" stroke-width="1.26" stroke-dasharray="5.4 2.6"/>
<circle cx="435.05" cy="408.40000000000003" r="2.9" fill="#fff" stroke="#1c1c1c" stroke-width="1.1"/>
<line x1="433.15000000000003" y1="410.3" x2="436.95" y2="406.50000000000006" stroke="#1c1c1c" stroke-width="0.8"/>
<circle cx="474.84999999999997" cy="408.40000000000003" r="2.9" fill="#fff" stroke="#1c1c1c" stroke-width="1.1"/>
<line x1="472.95" y1="410.3" x2="476.74999999999994" y2="406.50000000000006" stroke="#1c1c1c" stroke-width="0.8"/>
<circle cx="435.05" cy="448.2" r="2.9" fill="#fff" stroke="#1c1c1c" stroke-width="1.1"/>
<line x1="433.15000000000003" y1="450.09999999999997" x2="436.95" y2="446.3" stroke="#1c1c1c" stroke-width="0.8"/>
<circle cx="474.84999999999997" cy="448.2" r="2.9" fill="#fff" stroke="#1c1c1c" stroke-width="1.1"/>
<line x1="472.95" y1="450.09999999999997" x2="476.74999999999994" y2="446.3" stroke="#1c1c1c" stroke-width="0.8"/>
<circle cx="612.8" cy="428.8" r="36.2" fill="none" stroke="#1c1c1c" stroke-width="1.21"/>
<circle cx="612.8" cy="428.8" r="20.6" fill="none" stroke="#1c1c1c" stroke-width="1.21"/>
<circle cx="612.8" cy="428.8" r="27.4" fill="none" stroke="#1c1c1c" stroke-width="1.26" stroke-dasharray="6.4 2.8"/>
<circle cx="612.8" cy="428.8" r="10.8" fill="none" stroke="#1c1c1c" stroke-width="1.21"/>
<circle cx="593.1" cy="409.2" r="3.6" fill="none" stroke="#1c1c1c" stroke-width="1.1"/>
<line x1="573.6" y1="428.5" x2="651.2" y2="428.5" stroke="#1c1c1c" stroke-width="1.26" stroke-dasharray="7 2.6"/>
<line x1="612.5" y1="390" x2="612.5" y2="465.4" stroke="#1c1c1c" stroke-width="1.26" stroke-dasharray="7 2.6"/>
<path d="M418.5,539.5 V533.5 M491.5,533.5 V539.5" fill="none" stroke="#1c1c1c" stroke-width="1.21" stroke-linejoin="round"/>
<line x1="418.4" y1="533.5" x2="491.2" y2="533.5" stroke="#1c1c1c" stroke-width="1.26" stroke-dasharray="4.4 2.3"/>
<line x1="430.4" y1="533.4" x2="480" y2="533.4" stroke="#1c1c1c" stroke-width="1.5" stroke-dasharray="1.2 0.8"/>
<rect x="445.5" y="533.5" width="21.00" height="14.00" fill="none" stroke="#1c1c1c" stroke-width="0.99" stroke-dasharray="4.4 2.3"/>
<circle cx="454.9" cy="539.9" r="6.0" fill="#fff" stroke="#1c1c1c" stroke-width="1.32"/>
<circle cx="454.9" cy="539.9" r="2.0" fill="none" stroke="#1c1c1c" stroke-width="1.8"/>
<circle cx="454.9" cy="559.9" r="3.2" fill="none" stroke="#1c1c1c" stroke-width="1.21"/>
<line x1="450.29999999999995" y1="559.5" x2="459.5" y2="559.5" stroke="#1c1c1c" stroke-width="0.8"/>
<rect x="448.5" y="552.5" width="18.00" height="15.00" fill="none" stroke="#1c1c1c" stroke-width="0.99" stroke-dasharray="4.4 2.3"/>
<path d="M445.5,547.5 V567.5 H448.5" fill="none" stroke="#1c1c1c" stroke-width="0.99" stroke-linejoin="round" stroke-dasharray="4.4 2.3"/>
<path d="M437.5,539.5 V574.5 L451.5,571.5 V567.5" fill="none" stroke="#1c1c1c" stroke-width="1.26" stroke-linejoin="round" stroke-dasharray="4.4 2.3"/>
<path d="M440.5,552.5 L446.5,563.5" fill="none" stroke="#1c1c1c" stroke-width="0.99" stroke-linejoin="round" stroke-dasharray="4.4 2.3"/>
<path d="M470.5,539.5 V549.5" fill="none" stroke="#1c1c1c" stroke-width="1.26" stroke-linejoin="round" stroke-dasharray="4.4 2.3"/>
<path d="M437.5,574.5 Q430,577.4 425.5,581.5 Q417,588 412.5,595.5 Q408,603.4 406.5,611.5 Q405,618 405.5,624.5 Q406.6,630 408.5,634.5" fill="none" stroke="#1c1c1c" stroke-width="1.26" stroke-linejoin="round" stroke-dasharray="4.4 2.3"/>
<path d="M470.5,549.5 Q471.6,555 475.5,558.5 Q481,563.2 489.5,568.5 Q497,573.4 502.5,581.5 Q508,590 510.5,601.5 Q512.4,610 512.5,616.5 Q511.6,622 510.5,626.5 Q508.6,634 505.5,640.5 Q502,648 496.5,654.5 Q489,662 478.5,666.5" fill="none" stroke="#1c1c1c" stroke-width="1.26" stroke-linejoin="round" stroke-dasharray="4.4 2.3"/>
<circle cx="412" cy="616.2" r="3.6" fill="#fff" stroke="#1c1c1c" stroke-width="1.21"/>
<line x1="412.5" y1="604" x2="412.5" y2="612.6" stroke="#1c1c1c" stroke-width="0.8"/>
<circle cx="505.6" cy="616.2" r="3.6" fill="#fff" stroke="#1c1c1c" stroke-width="1.21"/>
<line x1="505.5" y1="604" x2="505.5" y2="612.6" stroke="#1c1c1c" stroke-width="0.8"/>
<rect x="410.5" y="630.5" width="22.00" height="36.00" fill="none" stroke="#1c1c1c" stroke-width="0.99" stroke-dasharray="4.4 2.3"/>
<rect x="410.5" y="630.5" width="17.00" height="16.00" fill="none" stroke="#1c1c1c" stroke-width="0.99" stroke-dasharray="4.4 2.3"/>
<rect x="415.5" y="652.5" width="16.00" height="14.00" fill="none" stroke="#1c1c1c" stroke-width="0.99" stroke-dasharray="4.4 2.3"/>
<circle cx="419.5" cy="639.3" r="5.6" fill="#fff" stroke="#1c1c1c" stroke-width="1.32"/>
<circle cx="419.5" cy="639.3" r="1.8" fill="none" stroke="#1c1c1c" stroke-width="1.6"/>
<circle cx="419.5" cy="659.3" r="3.4" fill="none" stroke="#1c1c1c" stroke-width="1.21"/>
<line x1="414.9" y1="659.5" x2="424.1" y2="659.5" stroke="#1c1c1c" stroke-width="0.8"/>
<rect x="480.5" y="630.5" width="21.00" height="36.00" fill="none" stroke="#1c1c1c" stroke-width="0.99" stroke-dasharray="4.4 2.3"/>
<rect x="482.5" y="630.5" width="17.00" height="16.00" fill="none" stroke="#1c1c1c" stroke-width="0.99" stroke-dasharray="4.4 2.3"/>
<rect x="484.5" y="652.5" width="17.00" height="14.00" fill="none" stroke="#1c1c1c" stroke-width="0.99" stroke-dasharray="4.4 2.3"/>
<circle cx="489.9" cy="639.3" r="5.6" fill="#fff" stroke="#1c1c1c" stroke-width="1.32"/>
<circle cx="489.9" cy="639.3" r="1.8" fill="none" stroke="#1c1c1c" stroke-width="1.6"/>
<circle cx="489.9" cy="659.3" r="3.4" fill="none" stroke="#1c1c1c" stroke-width="1.21"/>
<line x1="485.29999999999995" y1="659.5" x2="494.5" y2="659.5" stroke="#1c1c1c" stroke-width="0.8"/>
<path d="M420.5,650.5 L432.5,664.5 L437.5,690.5" fill="none" stroke="#1c1c1c" stroke-width="1.26" stroke-linejoin="round" stroke-dasharray="4.4 2.3"/>
<path d="M502.5,646.5 L478.5,666.5 L476.5,666.5 L472.5,690.5" fill="none" stroke="#1c1c1c" stroke-width="1.26" stroke-linejoin="round" stroke-dasharray="4.4 2.3"/>
<rect x="419.5" y="692.5" width="72.00" height="6.00" fill="none" stroke="#1c1c1c" stroke-width="1.26" stroke-dasharray="4.4 2.3"/>
<line x1="419.2" y1="691.4" x2="419.2" y2="699" stroke="#1c1c1c" stroke-width="1.6"/>
<line x1="491.2" y1="691.4" x2="491.2" y2="699" stroke="#1c1c1c" stroke-width="1.6"/>
<path d="M431.5,698.5 Q437,700.4 446.5,700.5 M479.5,698.5 Q473,700.4 464.5,700.5" fill="none" stroke="#1c1c1c" stroke-width="1.1" stroke-linejoin="round" stroke-dasharray="3 1.6"/>
<path d="M435.5,690.5 L437.5,692.5 M475.5,690.5 L472.5,692.5" fill="none" stroke="#1c1c1c" stroke-width="0.99" stroke-linejoin="round"/>
<line x1="454.5" y1="526" x2="454.5" y2="700.5" stroke="#1c1c1c" stroke-width="1.15" stroke-dasharray="20 3.4 4 3.4" stroke-dashoffset="16"/>
<line x1="148.3" y1="428.5" x2="268" y2="428.5" stroke="#1c1c1c" stroke-width="1.15" stroke-dasharray="30 3.2 3.4 3.2"/>
<line x1="268" y1="428.5" x2="351" y2="428.5" stroke="#1c1c1c" stroke-width="1.1"/>
<line x1="237.5" y1="91" x2="237.5" y2="164.6" stroke="#1c1c1c" stroke-width="1.15" stroke-dasharray="22 2.4 3.7 2.4" stroke-dashoffset="7"/>
<line x1="237.5" y1="266" x2="237.5" y2="472" stroke="#1c1c1c" stroke-width="1.15" stroke-dasharray="22 2.4 3.7 2.4" stroke-dashoffset="0"/>
<line x1="237.5" y1="472" x2="237.5" y2="520" stroke="#1c1c1c" stroke-width="1.1"/>
<line x1="454.5" y1="113" x2="454.5" y2="474" stroke="#1c1c1c" stroke-width="1.15" stroke-dasharray="22 2.4 3.7 2.4" stroke-dashoffset="3"/>
<line x1="454.5" y1="474" x2="454.5" y2="506" stroke="#1c1c1c" stroke-width="1.1"/>
<line x1="422" y1="428.5" x2="494" y2="428.5" stroke="#1c1c1c" stroke-width="0.99" stroke-dasharray="9 2.6"/>
</svg>
</body></html>
